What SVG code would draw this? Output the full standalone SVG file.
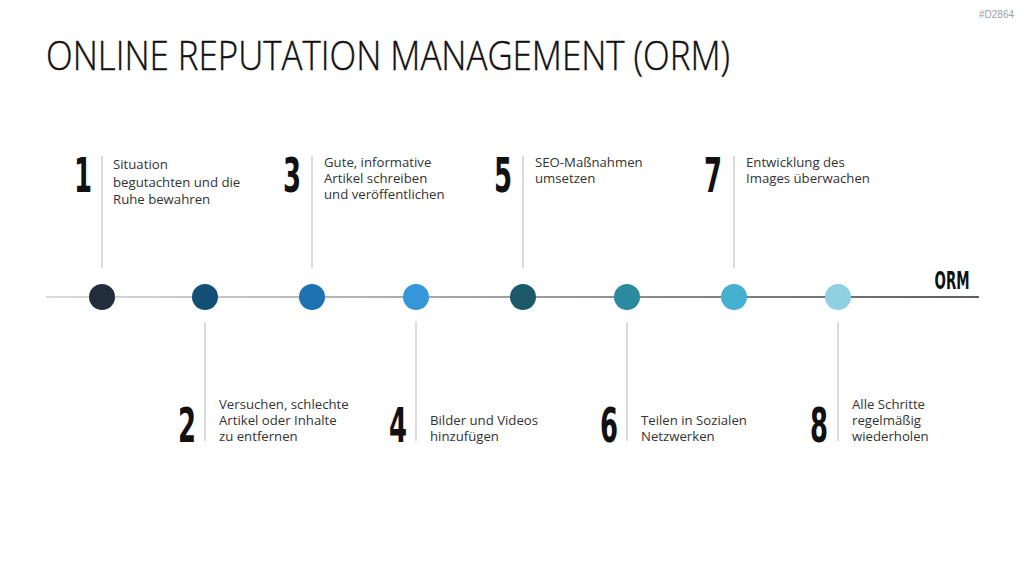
<svg xmlns="http://www.w3.org/2000/svg" width="1024" height="576" viewBox="0 0 1024 576">
<defs>
<linearGradient id="axis" gradientUnits="userSpaceOnUse" x1="46" y1="297" x2="979" y2="297">
<stop offset="0" stop-color="#dcdcdc"/>
<stop offset="1" stop-color="#5f5f5f"/>
</linearGradient>
<style>
.num{font-family:"Liberation Sans Narrow","DejaVu Sans Condensed",sans-serif;font-weight:bold;font-size:48px;fill:#111;text-anchor:middle}
.lbl{font-family:"Open Sans","Liberation Sans",sans-serif;font-size:13.2px;fill:#333}
.tick{stroke:#c8c8c8;stroke-width:1.3}
</style>
</defs>
<rect width="1024" height="576" fill="#fff"/>
<text x="1014" y="18" font-family="Liberation Sans, sans-serif" font-size="10" fill="#a0a0a0" text-anchor="end">#D2864</text>
<text x="46" y="70" font-family="Open Sans, Liberation Sans, sans-serif" font-weight="300" font-size="40" fill="#111" stroke="#111" stroke-width="0.4" textLength="684" lengthAdjust="spacingAndGlyphs">ONLINE REPUTATION MANAGEMENT (ORM)</text>

<g id="connectors">
<rect x="46" y="296" width="933" height="2" fill="url(#axis)"/>
<line class="tick" x1="102" y1="156" x2="102" y2="268"/>
<line class="tick" x1="312" y1="156" x2="312" y2="268"/>
<line class="tick" x1="523" y1="156" x2="523" y2="268"/>
<line class="tick" x1="734" y1="156" x2="734" y2="268"/>
<line class="tick" x1="205" y1="322" x2="205" y2="441"/>
<line class="tick" x1="416" y1="322" x2="416" y2="441"/>
<line class="tick" x1="627" y1="322" x2="627" y2="441"/>
<line class="tick" x1="838" y1="322" x2="838" y2="441"/>
</g>

<text transform="translate(952,289) scale(0.62,1)" font-family="Liberation Sans Narrow, DejaVu Sans Condensed, sans-serif" font-weight="bold" font-size="24" fill="#111" text-anchor="middle">ORM</text>

<g id="step1">
<circle cx="102" cy="297" r="13" fill="#222d3b"/>
<text class="num" transform="translate(83,192) scale(0.6,1)">1</text>
<text class="lbl" x="113" y="169">Situation</text>
<text class="lbl" x="113" y="187">begutachten und die</text>
<text class="lbl" x="113" y="204">Ruhe bewahren</text>
</g>
<g id="step2">
<circle cx="205" cy="297" r="13" fill="#134e74"/>
<text class="num" transform="translate(187,442) scale(0.6,1)">2</text>
<text class="lbl" x="219" y="409">Versuchen, schlechte</text>
<text class="lbl" x="219" y="425">Artikel oder Inhalte</text>
<text class="lbl" x="219" y="441">zu entfernen</text>
</g>
<g id="step3">
<circle cx="312" cy="297" r="13" fill="#1f72b0"/>
<text class="num" transform="translate(292,192) scale(0.6,1)">3</text>
<text class="lbl" x="324" y="167">Gute, informative</text>
<text class="lbl" x="324" y="183">Artikel schreiben</text>
<text class="lbl" x="324" y="199">und veröffentlichen</text>
</g>
<g id="step4">
<circle cx="416" cy="297" r="13" fill="#3596da"/>
<text class="num" transform="translate(398,442) scale(0.6,1)">4</text>
<text class="lbl" x="430" y="425">Bilder und Videos</text>
<text class="lbl" x="430" y="441">hinzufügen</text>
</g>
<g id="step5">
<circle cx="523" cy="297" r="13" fill="#1c5a6a"/>
<text class="num" transform="translate(503,192) scale(0.6,1)">5</text>
<text class="lbl" x="535" y="167">SEO-Maßnahmen</text>
<text class="lbl" x="535" y="183">umsetzen</text>
</g>
<g id="step6">
<circle cx="627" cy="297" r="13" fill="#2a8aa0"/>
<text class="num" transform="translate(609,442) scale(0.6,1)">6</text>
<text class="lbl" x="641" y="425">Teilen in Sozialen</text>
<text class="lbl" x="641" y="441">Netzwerken</text>
</g>
<g id="step7">
<circle cx="734" cy="297" r="13" fill="#45b0cf"/>
<text class="num" transform="translate(713,192) scale(0.6,1)">7</text>
<text class="lbl" x="746" y="167">Entwicklung des</text>
<text class="lbl" x="746" y="183">Images überwachen</text>
</g>
<g id="step8">
<circle cx="838" cy="297" r="13" fill="#8fd0e3"/>
<text class="num" transform="translate(819,442) scale(0.6,1)">8</text>
<text class="lbl" x="852" y="409">Alle Schritte</text>
<text class="lbl" x="852" y="425">regelmäßig</text>
<text class="lbl" x="852" y="441">wiederholen</text>
</g>
</svg>
